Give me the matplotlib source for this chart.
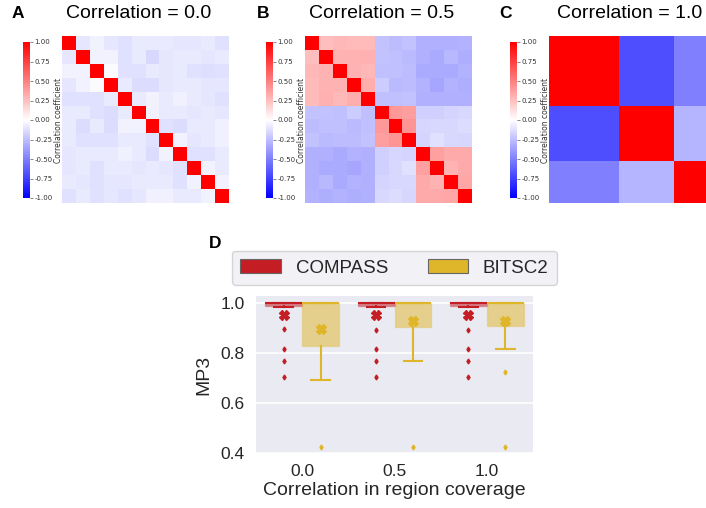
import matplotlib
matplotlib.use('Agg')
import matplotlib.pyplot as plt
import numpy as np
from matplotlib.colors import to_rgba
from matplotlib.patches import Patch

# ─────────────────────────────────────────────────────────────────────────────
# Dados
# ─────────────────────────────────────────────────────────────────────────────

corr_titles = ['Correlation = 0.0', 'Correlation = 0.5', 'Correlation = 1.0']
panel_letters = ['A', 'B', 'C']

corr_a = [
    [1.00, -.10, -.05, -.10, -.12, -.08, -.08, -.08, -.10, -.10, -.08, -.12],
    [-.10, 1.00, -.05, -.05, -.12, -.08, -.15, -.10, -.08, -.08, -.10, -.08],
    [-.05, -.05, 1.00, -.02, -.12, -.12, -.08, -.10, -.08, -.12, -.13, -.12],
    [-.10, -.05, -.02, 1.00, -.08, -.14, -.14, -.10, -.08, -.08, -.10, -.10],
    [-.12, -.12, -.12, -.08, 1.00, -.08, -.05, -.08, -.06, -.08, -.10, -.12],
    [-.08, -.08, -.12, -.14, -.08, 1.00, -.05, -.08, -.08, -.10, -.08, -.10],
    [-.08, -.14, -.08, -.14, -.05, -.05, 1.00, -.12, -.14, -.08, -.08, -.06],
    [-.08, -.12, -.12, -.12, -.08, -.08, -.12, 1.00, -.05, -.10, -.08, -.06],
    [-.10, -.08, -.08, -.08, -.06, -.08, -.14, -.05, 1.00, -.12, -.12, -.08],
    [-.10, -.08, -.12, -.08, -.08, -.10, -.08, -.10, -.12, 1.00, -.05, -.08],
    [-.08, -.10, -.12, -.10, -.10, -.08, -.08, -.08, -.12, -.05, 1.00, -.05],
    [-.12, -.08, -.12, -.10, -.12, -.10, -.06, -.06, -.08, -.08, -.05, 1.00],
]

corr_b = [
    [1.00, .25, .28, .27, .27, -.24, -.26, -.24, -.31, -.31, -.31, -.30],
    [.25, 1.00, .30, .30, .31, -.24, -.25, -.27, -.31, -.33, -.28, -.32],
    [.28, .30, 1.00, .30, .28, -.25, -.25, -.26, -.33, -.33, -.33, -.30],
    [.27, .30, .30, 1.00, .32, -.20, -.27, -.26, -.30, -.35, -.30, -.32],
    [.27, .31, .28, .32, 1.00, -.25, -.25, -.24, -.31, -.31, -.31, -.31],
    [-.24, -.24, -.25, -.20, -.25, 1.00, .40, .38, -.18, -.18, -.17, -.15],
    [-.26, -.25, -.25, -.27, -.25, .40, 1.00, .42, -.16, -.15, -.15, -.14],
    [-.24, -.27, -.26, -.26, -.24, .38, .42, 1.00, -.17, -.12, -.15, -.16],
    [-.31, -.31, -.33, -.30, -.31, -.18, -.16, -.17, 1.00, .37, .33, .33],
    [-.31, -.33, -.33, -.35, -.31, -.18, -.15, -.12, .37, 1.00, .30, .33],
    [-.31, -.28, -.33, -.30, -.31, -.17, -.15, -.15, .33, .30, 1.00, .35],
    [-.30, -.32, -.30, -.32, -.31, -.15, -.14, -.16, .33, .33, .35, 1.00],
]

# painel C: blocos de tamanho 5, 4, 3
block_sizes_c = [5, 4, 3]
corr_c = [
    [1.00, -.69, -.50],
    [-.69, 1.00, -.29],
    [-.50, -.29, 1.00],
]

cbar_ticks = [-1.0, -0.75, -0.5, -0.25, 0.0, 0.25, 0.5, 0.75, 1.0]

# painel D
methods = ['COMPASS', 'BITSC2']
method_colors = ['#c41e24', '#dfb52a']
coverage_corr = ['0.0', '0.5', '1.0']

compass_q1 = [0.987, 0.987, 0.987]
compass_q3 = [1.0, 1.0, 1.0]
compass_med = [1.0, 1.0, 1.0]
compass_whislo = [0.984, 0.984, 0.984]
compass_whishi = [1.0, 1.0, 1.0]
compass_mean = [0.952, 0.952, 0.952]
compass_fliers = [[0.896, 0.816, 0.768, 0.704],
                  [0.892, 0.816, 0.768, 0.704],
                  [0.894, 0.816, 0.768, 0.704]]

bitsc2_q1 = [0.829, 0.904, 0.910]
bitsc2_q3 = [1.0, 1.0, 1.0]
bitsc2_med = [1.0, 1.0, 1.0]
bitsc2_whislo = [0.692, 0.768, 0.815]
bitsc2_whishi = [1.0, 1.0, 1.0]
bitsc2_mean = [0.896, 0.929, 0.929]
bitsc2_fliers = [[0.424], [0.424], [0.724, 0.424]]


def make_stats(q1, q3, med, lo, hi, mean, fliers):
    return [dict(q1=a, q3=b, med=c, whislo=d, whishi=e, mean=f, fliers=g)
            for a, b, c, d, e, f, g in zip(q1, q3, med, lo, hi, mean, fliers)]


stats = [
    make_stats(compass_q1, compass_q3, compass_med, compass_whislo,
               compass_whishi, compass_mean, compass_fliers),
    make_stats(bitsc2_q1, bitsc2_q3, bitsc2_med, bitsc2_whislo,
               bitsc2_whishi, bitsc2_mean, bitsc2_fliers),
]

# ─────────────────────────────────────────────────────────────────────────────
# Figura
# ─────────────────────────────────────────────────────────────────────────────

plt.rcParams['font.family'] = ['Liberation Sans', 'DejaVu Sans']

W, H = 706, 508
fig = plt.figure(figsize=(W / 100, H / 100), dpi=100)


def px_axes(x0, y0, x1, y1):
    """Cria eixos a partir de coordenadas em pixels (origem no topo)."""
    return fig.add_axes([x0 / W, 1 - y1 / H, (x1 - x0) / W, (y1 - y0) / H])


heat_left = [62, 305, 549]
cbar_left = [23, 266, 510]
title_x = [139, 382, 630]
letter_x = [18, 263, 505]

mats = [np.array(corr_a), np.array(corr_b), np.array(corr_c)]
edges = [np.arange(13), np.arange(13), np.concatenate([[0], np.cumsum(block_sizes_c)])]

for i in range(3):
    ax = px_axes(heat_left[i], 36, heat_left[i] + 167, 203)
    mesh = ax.pcolormesh(edges[i], edges[i], mats[i], cmap='bwr', vmin=-1, vmax=1)
    ax.set_xlim(0, 12)
    ax.set_ylim(12, 0)
    ax.axis('off')

    cax = px_axes(cbar_left[i], 42, cbar_left[i] + 7, 198)
    cb = fig.colorbar(mesh, cax=cax, ticks=cbar_ticks, format='%.2f')
    cb.outline.set_visible(False)
    cb.ax.tick_params(labelsize=5, length=2, width=0.5, pad=1, color='#555555',
                      labelcolor='#333333')
    for t in cb.ax.get_yticklabels():
        t.set_family('DejaVu Sans')
    cb.set_label('Correlation coefficient', fontsize=5.5, labelpad=1,
                 family='DejaVu Sans', color='#333333')

    fig.text(title_x[i] / W, 1 - 13 / H, corr_titles[i], ha='center', va='center',
             fontsize=14)
    fig.text(letter_x[i] / W, 1 - 14 / H, panel_letters[i], ha='center', va='center',
             fontsize=12.5, fontweight='bold')

# painel D
axd = px_axes(256, 296, 533, 453)
axd.set_facecolor('#eaeaf2')
for s in axd.spines.values():
    s.set_visible(False)
axd.yaxis.grid(True, color='white', linewidth=1.2, zorder=0)
axd.set_axisbelow(True)

x = np.arange(len(coverage_corr))
offsets = [-0.2, 0.2]
for k in range(2):
    c = method_colors[k]
    axd.bxp(stats[k], positions=x + offsets[k], widths=0.4, capwidths=0.2,
            patch_artist=True, showmeans=True,
            boxprops=dict(facecolor=to_rgba(c, 0.5), edgecolor=to_rgba(c, 0.3),
                          linewidth=1),
            medianprops=dict(color=c, linewidth=1.5),
            whiskerprops=dict(color=c, linewidth=1.5),
            capprops=dict(color=c, linewidth=1.5),
            meanprops=dict(marker='X', markerfacecolor=c, markeredgecolor=c,
                           markersize=7),
            flierprops=dict(marker='d', markerfacecolor=c, markeredgecolor=c,
                            markersize=2.5),
            manage_ticks=False, zorder=3)

axd.set_xlim(-0.5, 2.5)
axd.set_ylim(0.4, 1.028)
axd.set_yticks([0.4, 0.6, 0.8, 1.0])
axd.set_yticklabels(['0.4', '0.6', '0.8', '1.0'])
axd.set_xticks(x)
axd.set_xticklabels(coverage_corr)
axd.tick_params(length=0, labelsize=12.5, pad=8, labelcolor='#262626')
axd.set_ylabel('MP3', fontsize=14, labelpad=6, color='#262626')
axd.set_xlabel('Correlation in region coverage', fontsize=14, labelpad=2,
               color='#262626')

handles = [Patch(facecolor=method_colors[k], edgecolor='#666666', linewidth=0.8)
           for k in range(2)]
leg = axd.legend(handles, methods, ncol=2, loc='lower center',
                 bbox_to_anchor=(0.5, 1.07), borderaxespad=0, fontsize=13.5,
                 frameon=True, handlelength=2.15, handleheight=0.75,
                 columnspacing=2.1, borderpad=0.45, fancybox=True)
leg.get_frame().set_facecolor('#eeeef4')
leg.get_frame().set_edgecolor('#cccccc')
for t in leg.get_texts():
    t.set_color('#262626')

fig.text(215 / W, 1 - 243 / H, 'D', ha='center', va='center', fontsize=12.5,
         fontweight='bold')

fig.savefig('out.png', dpi=100)
